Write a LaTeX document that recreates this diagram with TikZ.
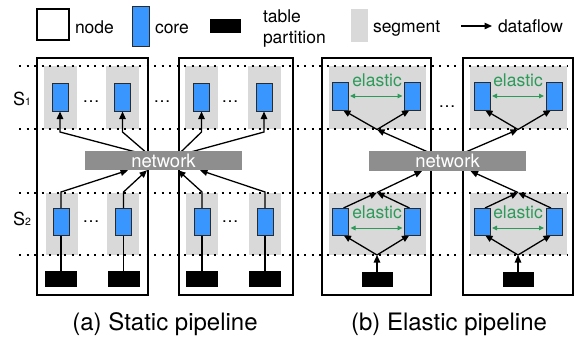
\documentclass[tikz,border=0pt]{standalone}
\usepackage{fontspec}
\setmainfont{TeX Gyre Heros}
\usetikzlibrary{arrows.meta}
\definecolor{corefill}{HTML}{3A96FF}
\definecolor{coreedge}{HTML}{2B2B2B}
\definecolor{seggray}{HTML}{D9D9D9}
\definecolor{netgray}{HTML}{8E8E8E}
\definecolor{elasticgreen}{HTML}{2D9A5A}
\pgfdeclarelayer{bg}
\pgfdeclarelayer{mid}
\pgfsetlayers{bg,mid,main}

\begin{document}
\begin{tikzpicture}[x=1pt,y=-1pt,
  every node/.style={inner sep=0pt, outer sep=0pt},
  nodebox/.style={draw=black, line width=1.4pt},
  segbox/.style={fill=seggray},
  corebox/.style={fill=corefill, draw=coreedge, line width=0.8pt, minimum width=16pt, minimum height=28pt},
  tablebox/.style={fill=black, minimum width=32pt, minimum height=16pt},
  netbox/.style={fill=netgray, text=white, font=\fontsize{18.5}{18.5}\selectfont, minimum width=157pt, minimum height=19.5pt},
  stageline/.style={line width=1.4pt, dash pattern=on 2.2pt off 5.3pt},
  flow/.style={line width=1.3pt, -{Triangle[length=7.5pt,width=6.5pt]}},
  link/.style={line width=1.3pt},
  elastic/.style={elasticgreen, line width=1pt, {Triangle[length=5pt,width=4.5pt]}-{Triangle[length=5pt,width=4.5pt]}},
  lbl/.style={font=\fontsize{17.5}{17.5}\selectfont, anchor=base west},
  elabel/.style={text=elasticgreen, font=\fontsize{17.5}{17.5}\selectfont, anchor=base},
  dots/.style={font=\fontsize{17}{17}\selectfont, anchor=base},
  caption/.style={font=\fontsize{24}{24}\selectfont, anchor=base},
  stagelbl/.style={anchor=base west},
]
\useasboundingbox (0,0) rectangle (580,346);

% ---------- legend ----------
\node[nodebox, minimum width=32pt, minimum height=31pt] (lgNode) at (53,24.5) {};
\node[lbl] (lgNodeT) at (75,33) {node};
\node[corebox, minimum width=17pt, minimum height=40pt] (lgCore) at (140.5,26) {};
\node[lbl] (lgCoreT) at (155,33) {core};
\node[tablebox, minimum width=31pt, minimum height=14pt] (lgTable) at (225.5,26) {};
\node[lbl] (lgTableT) at (263,22.5) {table};
\node[lbl] (lgTableT2) at (263,43) {partition};
\node[segbox, minimum width=17pt, minimum height=33pt] (lgSeg) at (359.5,25.5) {};
\node[lbl] (lgSegT) at (373,32.5) {segment};
\coordinate (lgArrA) at (461,26);
\coordinate (lgArrB) at (492,26);
\draw[flow] (lgArrA) -- (lgArrB);
\node[lbl] (lgFlowT) at (498,32.5) {dataflow};

% ---------- segments, stage lines, machine nodes ----------
\begin{pgfonlayer}{bg}
  % static pipeline segments
  \foreach \n/\x in {a1s1/60,a1s2/122,a2s1/201,a2s2/264}
    \node[segbox, minimum width=33pt, minimum height=63pt] (\n) at (\x,97.5) {};
  \foreach \n/\x in {a1d1/62,a1d2/123,a2d1/202,a2d2/265}
    \node[segbox, minimum width=32pt, minimum height=62pt] (\n) at (\x,224) {};
  % elastic pipeline segments
  \foreach \n/\x in {b1s1/377,b2s1/518}
    \node[segbox, minimum width=97pt, minimum height=63pt] (\n) at (\x,97.5) {};
  \foreach \n/\x in {b1d1/377,b2d1/518}
    \node[segbox, minimum width=97pt, minimum height=62pt] (\n) at (\x,224) {};
  % stage boundaries
  \foreach \y in {66,129,193,255}
    \draw[stageline] (19,\y) -- (567,\y);
  % machine nodes
  \node[nodebox, minimum width=111pt, minimum height=237pt] (na1) at (92.5,176.5) {};
  \node[nodebox, minimum width=114pt, minimum height=237pt] (na2) at (236,176.5) {};
  \node[nodebox, minimum width=109pt, minimum height=237pt] (nb1) at (376.5,176.5) {};
  \node[nodebox, minimum width=110pt, minimum height=237pt] (nb2) at (518,176.5) {};
\end{pgfonlayer}

% ---------- cores and table partitions ----------
\foreach \n/\x in {a1u1/60,a1u2/122.5,a2u1/201.5,a2u2/264}
  \node[corebox] (\n) at (\x,97.5) {};
\foreach \n/\x in {a1l1/61,a1l2/123.5,a2l1/202,a2l2/265}
  \node[corebox, minimum height=27pt] (\n) at (\x,221.5) {};
\foreach \n/\x in {a1t1/61,a1t2/123.5,a2t1/202,a2t2/265}
  \node[tablebox] (\n) at (\x,279) {};

\foreach \n/\x in {b1u1/340,b1u2/412.5,b2u1/482,b2u2/554}
  \node[corebox] (\n) at (\x,96) {};
\foreach \n/\x in {b1l1/340.5,b1l2/412.5,b2l1/482,b2l2/554}
  \node[corebox, minimum height=27pt] (\n) at (\x,221.5) {};
\node[tablebox, minimum width=31pt, minimum height=15pt] (b1t) at (377,279.5) {};
\node[tablebox, minimum width=31pt, minimum height=15pt] (b2t) at (518,279.5) {};

% ---------- network ----------
\node[netbox] (netA) at (163.5,160.5) {network};
\node[netbox, minimum height=20pt] (netB) at (447.5,161) {network};

% ---------- static pipeline dataflow ----------
\coordinate (yA1) at (0,132);
\coordinate (yA2) at (0,192);
\begin{pgfonlayer}{mid}
  \coordinate (aHubL) at ([shift={(-13.5,5)}]netA.north);
  \coordinate (aHubR) at ([shift={(13.5,5)}]netA.north);
  \foreach \c in {a1u1,a1u2}
    \draw[flow] (aHubL) -- (\c.south |- yA1) -- (\c.south);
  \foreach \c in {a2u1,a2u2}
    \draw[flow] (aHubR) -- (\c.south |- yA1) -- (\c.south);
  \foreach \c/\s in {a1l1/-35.5,a1l2/-16.5,a2l1/14.5,a2l2/36.5}
    \draw[flow] (\c.north) -- (\c.north |- yA2) -- ([shift={(\s,0)}]netA.south);
  \foreach \t/\c in {a1t1/a1l1,a1t2/a1l2,a2t1/a2l1,a2t2/a2l2}
    \draw[link] (\t.north) -- (\c.south);
\end{pgfonlayer}

% ---------- elastic pipeline dataflow ----------
\coordinate (b1ju) at ([shift={(0,0.5)}]b1s1.south);
\coordinate (b2ju) at ([shift={(0,0.5)}]b2s1.south);
\coordinate (b1jm) at ([shift={(0,-0.5)}]b1d1.north);
\coordinate (b2jm) at ([shift={(0,-0.5)}]b2d1.north);
\coordinate (b1jl) at (b1d1.south);
\coordinate (b2jl) at (b2d1.south);
\begin{pgfonlayer}{mid}
  \coordinate (bHubL) at ([shift={(-10.5,5)}]netB.north);
  \coordinate (bHubR) at ([shift={(9,5)}]netB.north);
  \draw[flow] (bHubL) -- (b1ju);
  \draw[flow] (bHubR) -- (b2ju);
  \foreach \j/\l/\r in {b1ju/b1u1/b1u2,b2ju/b2u1/b2u2,b1jl/b1l1/b1l2,b2jl/b2l1/b2l2}{
    \draw[flow] (\j) -- ([shift={(-5,0)}]\l.south east);
    \draw[flow] (\j) -- ([shift={(5,0)}]\r.south west);
  }
  \foreach \j/\l/\r in {b1jm/b1l1/b1l2,b2jm/b2l1/b2l2}{
    \draw[flow] ([shift={(-5,0)}]\l.north east) -- (\j);
    \draw[flow] ([shift={(5,0)}]\r.north west) -- (\j);
  }
  \draw[flow] (b1jm) -- ([shift={(-25.5,0)}]netB.south);
  \draw[flow] (b2jm) -- ([shift={(23,0)}]netB.south);
  \draw[flow] (b1t.north) -- (b1jl);
  \draw[flow] (b2t.north) -- (b2jl);
\end{pgfonlayer}

% elastic resizing between cores of a segment
\foreach \l/\r in {b1u1/b1u2,b2u1/b2u2}
  \draw[elastic] ([shift={(2,0)}]\l.east) -- ([shift={(-2,0)}]\r.west);
\foreach \l/\r in {b1l1/b1l2,b2l1/b2l2}
  \draw[elastic] ([shift={(2,6.5)}]\l.east) -- ([shift={(-2,6.5)}]\r.west);
\node[elabel] (el1) at (377,86) {elastic};
\node[elabel] (el2) at (518,86) {elastic};
\node[elabel] (el3) at (377,218.5) {elastic};
\node[elabel] (el4) at (518,218.5) {elastic};

% ---------- stage labels and ellipses ----------
\node[stagelbl] (lS1) at (13,105) {\fontsize{18}{18}\selectfont S\fontsize{10.5}{10.5}\selectfont 1};
\node[stagelbl] (lS2) at (13,225) {\fontsize{18}{18}\selectfont S\fontsize{10.5}{10.5}\selectfont 2};
\node[dots] (dA1) at (91,102) {\textellipsis};
\node[dots] (dA2) at (162,102) {\textellipsis};
\node[dots] (dA3) at (230,102) {\textellipsis};
\node[dots] (dA4) at (91,222) {\textellipsis};
\node[dots] (dA5) at (230,222) {\textellipsis};
\node[dots] (dB1) at (447,107) {\textellipsis};

% ---------- captions ----------
\node[caption] (capA) at (165,330) {(a) Static pipeline};
\node[caption] (capB) at (449,330) {(b) Elastic pipeline};
\end{tikzpicture}
\end{document}
